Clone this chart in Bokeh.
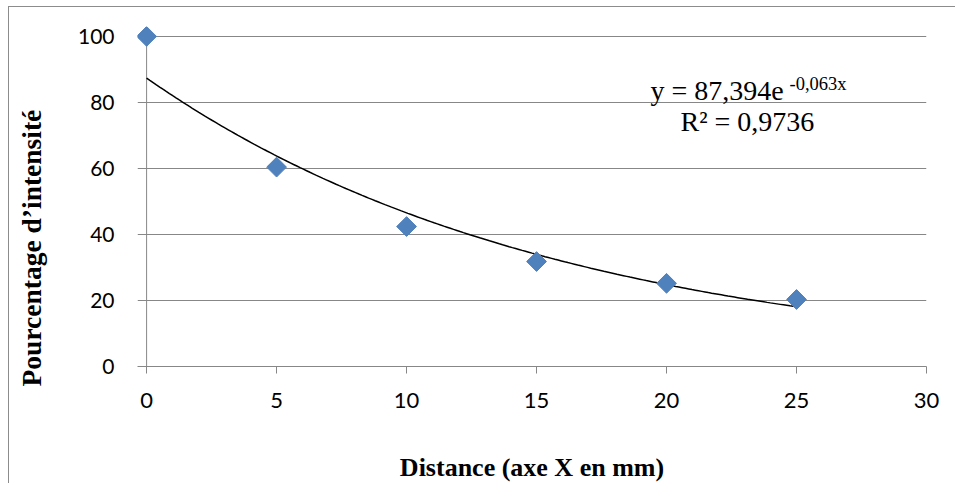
import numpy as np
from bokeh.plotting import figure
from bokeh.models import Range1d, Label, FixedTicker, ColumnDataSource
from bokeh.embed import file_html
from bokeh.resources import INLINE

# Data
distance = [0, 5, 10, 15, 20, 25]
intensity = [100, 60.4, 42.4, 31.8, 25.2, 20.3]
x_ticks = [0, 5, 10, 15, 20, 25, 30]
y_ticks = [0, 20, 40, 60, 80, 100]
fit_a = 87.394
fit_b = -0.063
eq_text = "y = 87,394e"
eq_exp = "-0,063x"
r2_text = "R² = 0,9736"
x_title = "Distance (axe X en mm)"
y_title = "Pourcentage d’intensité"

GRID = "#878787"

p = figure(width=947, height=477, output_backend="svg", toolbar_location=None,
           x_range=Range1d(-0.35, 30), y_range=Range1d(0, 103),
           min_border_left=128, min_border_right=30, min_border_top=19, min_border_bottom=118)
p.outline_line_color = None
p.background_fill_color = "white"
p.border_fill_color = "white"
p.styles = {"margin-left": "8px", "margin-top": "6px",
            "border-left": "1px solid #8c8c8c", "border-top": "1px solid #8c8c8c"}

p.xgrid.visible = False
p.ygrid.ticker = FixedTicker(ticks=y_ticks)
p.ygrid.grid_line_color = GRID
p.ygrid.grid_line_width = 1

# x axis
p.xaxis.ticker = FixedTicker(ticks=x_ticks)
p.xaxis.axis_line_color = GRID
p.xaxis.major_tick_line_color = GRID
p.xaxis.major_tick_out = 7
p.xaxis.major_tick_in = 0
p.xaxis.minor_tick_line_color = None
p.xaxis.major_label_text_font = "Lato"
p.xaxis.major_label_text_font_size = "22px"
p.xaxis.major_label_text_color = "black"
p.xaxis.major_label_standoff = 19
p.xaxis.axis_label = x_title
p.xaxis.axis_label_text_font = "Liberation Serif"
p.xaxis.axis_label_text_font_style = "bold"
p.xaxis.axis_label_text_font_size = "26px"
p.xaxis.axis_label_text_color = "black"
p.xaxis.axis_label_standoff = 42

# y axis
p.yaxis.ticker = FixedTicker(ticks=y_ticks)
p.yaxis.axis_line_color = None
p.yaxis.major_tick_line_color = None
p.yaxis.major_tick_out = 0
p.yaxis.major_tick_in = 0
p.yaxis.minor_tick_line_color = None
p.yaxis.major_label_text_font = "Lato"
p.yaxis.major_label_text_font_size = "21px"
p.yaxis.major_label_text_color = "black"
p.yaxis.major_label_standoff = 23
# trailing no-break spaces move the centred title down, as in the reference
p.yaxis.axis_label = y_title + "\u00a0" * 15
p.yaxis.axis_label_text_font = "Liberation Serif"
p.yaxis.axis_label_text_font_style = "bold"
p.yaxis.axis_label_text_font_size = "27.5px"
p.yaxis.axis_label_text_color = "black"
p.yaxis.axis_label_standoff = 28

# y axis line at x=0
p.segment(x0=[0], y0=[y_ticks[0]], x1=[0], y1=[y_ticks[-1]], line_color=GRID, line_width=1)

# trendline
xs = np.linspace(distance[0], distance[-1], 200)
p.line(xs, fit_a * np.exp(fit_b * xs), line_color="black", line_width=1.5)

# markers
src = ColumnDataSource(dict(x=distance, y=intensity))
p.scatter("x", "y", source=src, marker="square", size=14, angle=np.pi / 4,
          fill_color="#4F81BD", line_color="#4F81BD")

# equation labels (screen units relative to frame)
p.add_layout(Label(x=513, y=276, x_units="screen", y_units="screen", text=eq_text,
                   text_font="Liberation Serif", text_font_size="28px", text_color="black",
                   text_align="left", text_baseline="alphabetic"))
p.add_layout(Label(x=652, y=283, x_units="screen", y_units="screen", text=eq_exp,
                   text_font="Liberation Serif", text_font_size="18.5px", text_color="black",
                   text_align="left", text_baseline="alphabetic"))
p.add_layout(Label(x=543, y=245, x_units="screen", y_units="screen", text=r2_text,
                   text_font="Liberation Serif", text_font_size="28px", text_color="black",
                   text_align="left", text_baseline="alphabetic"))

open("out.html", "w").write(file_html(p, INLINE))
